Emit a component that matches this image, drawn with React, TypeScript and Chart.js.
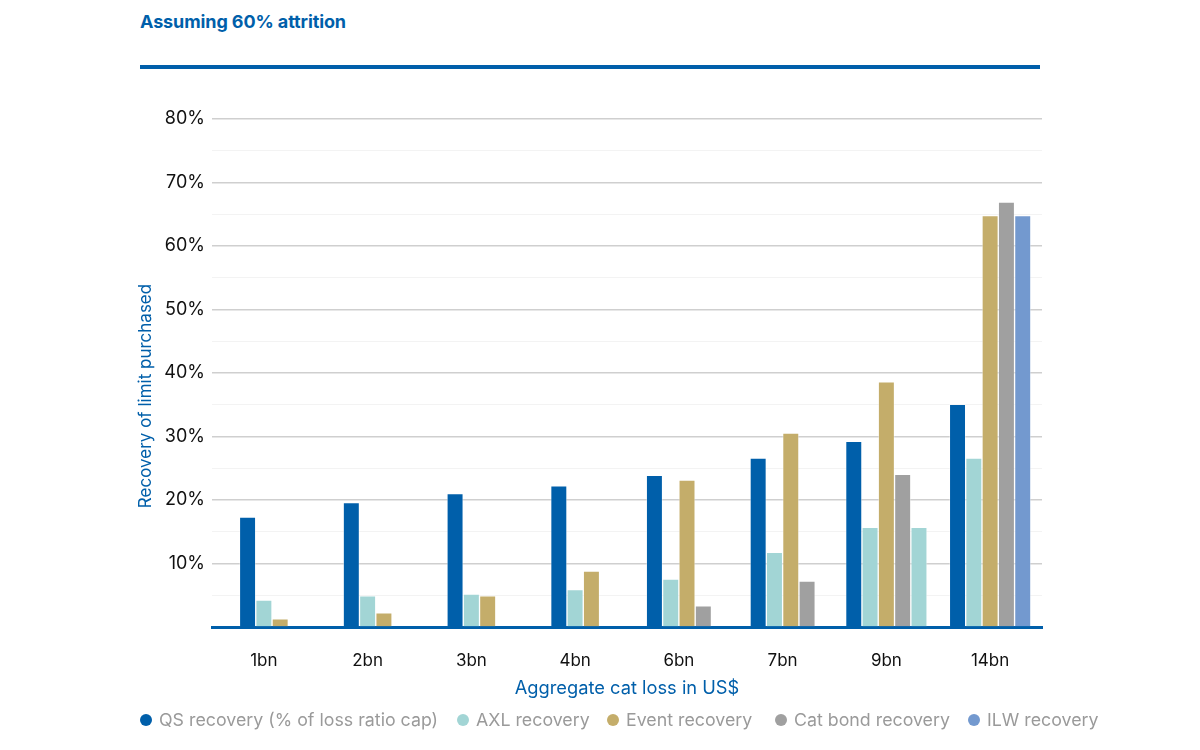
import React, { useEffect, useRef } from "react";
import { Chart, registerables } from "chart.js";

Chart.register(...registerables);

const categories = ["1bn", "2bn", "3bn", "4bn", "6bn", "7bn", "9bn", "14bn"];
const qsRecovery = [17.3, 19.6, 21.0, 22.25, 23.9, 26.6, 29.25, 35.05];
const axlRecovery = [4.25, 4.9, 5.2, 5.9, 7.55, 11.75, 15.7, 26.6];
const eventRecovery = [1.3, 2.25, 4.9, 8.8, 23.15, 30.55, 38.6, 64.8];
const catBondRecovery = [null, null, null, null, 3.35, 7.25, 24.05, 66.9];
const ilwRecovery = [null, null, null, null, null, null, 15.7, 64.8];

const seriesNames = [
  "QS recovery (% of loss ratio cap)",
  "AXL recovery",
  "Event recovery",
  "Cat bond recovery",
  "ILW recovery",
];

const BLUE = "#005faa";
const TEAL = "#a2d5d5";
const GOLD = "#c4ad6a";
const GREY = "#a0a0a0";
const ILW = "#7399cf";
const seriesColors = [BLUE, TEAL, GOLD, GREY, ILW];
// ILW bars as coloured in the reference (9bn shown in teal)
const ilwBarColors = [ILW, ILW, ILW, ILW, ILW, ILW, TEAL, ILW];

const FONT = "Inter, 'Noto Sans', sans-serif";

const yTitlePlugin = {
  id: "yTitle",
  afterDraw(chart: any) {
    const ctx = chart.ctx;
    ctx.save();
    ctx.translate(146, 396);
    ctx.rotate(-Math.PI / 2);
    ctx.font = `17px ${FONT}`;
    ctx.fillStyle = BLUE;
    ctx.textAlign = "center";
    ctx.textBaseline = "middle";
    ctx.fillText("Recovery of limit purchased", 0, 0);
    ctx.restore();
  },
};

export default function App() {
  const ref = useRef<HTMLCanvasElement | null>(null);

  useEffect(() => {
    document.body.style.margin = "0";
    document.body.style.overflow = "hidden";
    if (!ref.current) return;
    const dataSets = [qsRecovery, axlRecovery, eventRecovery, catBondRecovery, ilwRecovery];
    const chart = new Chart(ref.current, {
      type: "bar",
      data: {
        labels: categories,
        datasets: dataSets.map((d, i) => ({
          label: seriesNames[i],
          data: d as any,
          backgroundColor: i === 4 ? ilwBarColors : seriesColors[i],
          borderColor: "rgba(255,255,255,0.35)",
          borderWidth: { top: 1, left: 1, right: 1, bottom: 0 },
          barThickness: 16.3,
          skipNull: true,
        })),
      },
      options: {
        animation: false,
        responsive: false,
        maintainAspectRatio: false,
        layout: { padding: { top: 119, right: 158, left: 0, bottom: 0 } },
        plugins: {
          legend: { display: false },
          tooltip: { enabled: false },
        },
        scales: {
          x: {
            grid: { display: false },
            border: { display: true, color: BLUE, width: 3 },
            ticks: {
              color: "#111",
              font: { family: FONT, size: 17 },
              padding: 16,
            },
            title: {
              display: true,
              text: "Aggregate cat loss in US$",
              color: BLUE,
              font: { family: FONT, size: 18.3 },
              padding: { top: 0, bottom: 51 },
            },
            afterFit(scale: any) {
              scale.height = 123;
            },
          },
          y: {
            min: 0,
            max: 80,
            border: { display: false },
            grid: {
              drawTicks: false,
              color: (c: any) => {
                const v = c.tick ? c.tick.value : 0;
                if (v === 0) return "rgba(0,0,0,0)";
                return v % 10 === 0 ? "#cfcfcf" : "#f3f3f3";
              },
              lineWidth: (c: any) => {
                const v = c.tick ? c.tick.value : 0;
                return v % 10 === 0 ? 1.5 : 1;
              },
            },
            ticks: {
              stepSize: 5,
              padding: 7,
              color: "#111",
              font: { family: FONT, size: 18 },
              callback: (v: any) => (v !== 0 && v % 10 === 0 ? `${v}%` : ""),
            },
            afterFit(scale: any) {
              scale.width = 212;
            },
          },
        },
      },
      plugins: [yTitlePlugin],
    });
    return () => chart.destroy();
  }, []);

  const legendLeft = [140, 457, 607, 775, 968];

  return (
    <div style={{ position: "relative", width: 1200, height: 750, fontFamily: FONT }}>
      <div
        style={{
          position: "absolute",
          left: 140,
          top: 11,
          fontSize: 18,
          fontWeight: 700,
          color: BLUE,
          letterSpacing: -0.1,
        }}
      >
        Assuming 60% attrition
      </div>
      <div
        style={{
          position: "absolute",
          left: 140,
          top: 65,
          width: 900,
          height: 4,
          background: BLUE,
        }}
      />
      <canvas ref={ref} width={1200} height={750} style={{ position: "absolute", left: 0, top: 0 }} />
      {seriesNames.map((n, i) => (
        <div
          key={n}
          style={{
            position: "absolute",
            left: legendLeft[i],
            top: 709,
            display: "flex",
            alignItems: "center",
            fontSize: 17.8,
            color: "#9a9a9a",
            whiteSpace: "nowrap",
          }}
        >
          <span
            style={{
              display: "inline-block",
              width: 12,
              height: 12,
              borderRadius: 6,
              background: seriesColors[i],
              marginRight: 7,
            }}
          />
          <span>{n}</span>
        </div>
      ))}
    </div>
  );
}
